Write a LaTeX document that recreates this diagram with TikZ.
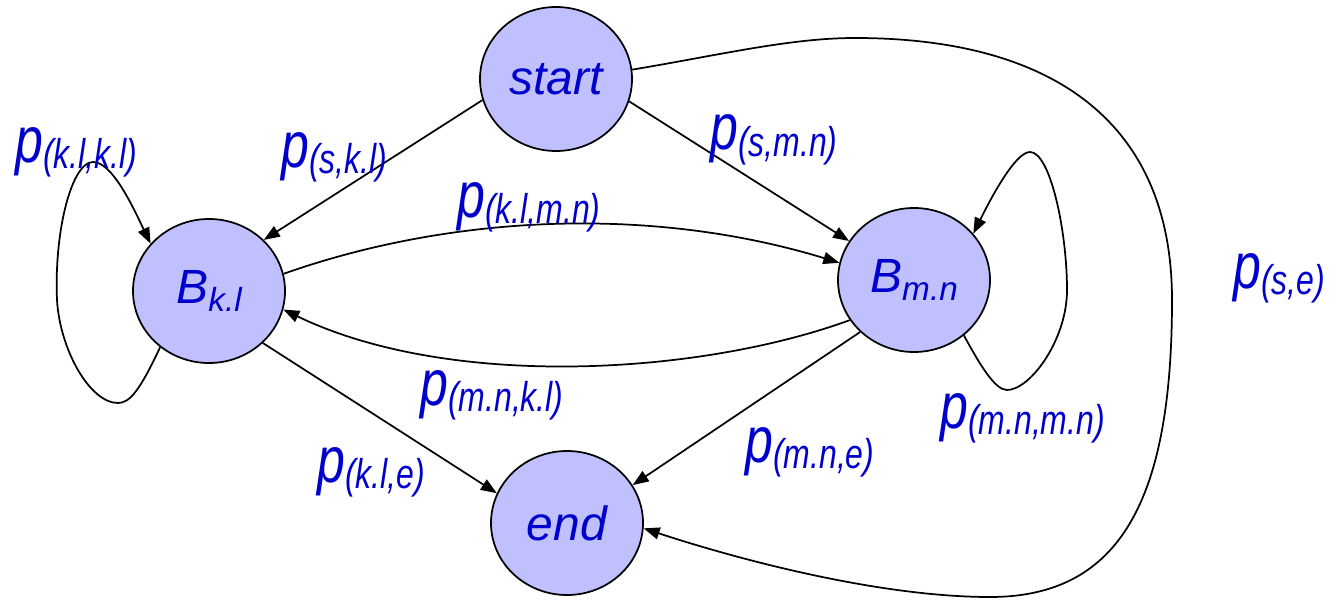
\documentclass[tikz,border=0pt]{standalone}
\usepackage{fontspec}
\setmainfont{Liberation Sans}
\usetikzlibrary{shapes.geometric,arrows.meta}
\definecolor{nodefill}{RGB}{192,192,255}
\definecolor{txtblue}{RGB}{0,0,204}
\newcommand{\plab}[1]{\scalebox{1}[1.3]{\fontsize{37.5}{40}\selectfont\itshape p\raisebox{-3.5pt}{\fontsize{24}{26}\selectfont #1}}}
\newcommand{\bnode}[1]{B\raisebox{-6.5pt}{\fontsize{25}{28}\selectfont #1}}
\begin{document}
\begin{tikzpicture}[x=0.75pt,y=-0.75pt,
  state/.style={ellipse,draw,line width=1.3pt,fill=nodefill,minimum width=114pt,minimum height=108pt,inner sep=0pt,text=txtblue,font=\fontsize{36}{40}\selectfont\itshape},
  lab/.style={anchor=base west,inner sep=0pt,text=txtblue},
  edge/.style={line width=1.3pt,-{Triangle[length=12pt,width=9pt]}}]
\useasboundingbox (0,0) rectangle (1337,599);
\node[state] (start) at (556,79) {start};
\node[state] (Bkl) at (209,291) {\bnode{k.l}};
\node[state] (Bmn) at (914,280) {\bnode{m.n}};
\node[state] (end) at (567,523) {end};

\draw[edge] (start.196) -- (Bkl.43);
\draw[edge] (start.343) -- (Bmn.149);
\draw[edge] (start.7) .. controls (720,55) and (790,38) .. (855,38)
  .. controls (1050,38) and (1172,120) .. (1172,300)
  .. controls (1172,500) and (1120,597) .. (990,597)
  .. controls (880,597) and (740,560) .. (end.-4);
\draw[edge] (Bkl.13) .. controls (450,215) and (650,205) .. (Bmn.167);
\draw[edge] (Bmn.212) .. controls (700,375) and (450,390) .. (Bkl.346);
\draw[edge] (Bkl.316) -- (end.157);
\draw[edge] (Bmn.224) -- (end.30);
\draw[edge] (Bkl.229) .. controls (140,390) and (130,403) .. (118,403)
  .. controls (90,403) and (60,350) .. (57,300)
  .. controls (54,230) and (72,162) .. (93,162)
  .. controls (112,162) and (132,205) .. (Bkl.141);
\draw[edge] (Bmn.312) .. controls (980,365) and (995,390) .. (1007,390)
  .. controls (1030,390) and (1067,340) .. (1067,290)
  .. controls (1067,230) and (1050,152) .. (1030,152)
  .. controls (1015,152) and (990,200) .. (Bmn.38);

\node[lab] (l1) at (15,162) {\plab{(k.l,k.l)}};
\node[lab] (l2) at (281,167) {\plab{(s,k.l)}};
\node[lab] (l3) at (710,150) {\plab{(s,m.n)}};
\node[lab] (l4) at (457,217) {\plab{(k.l,m.n)}};
\node[lab] (l5) at (1233,288) {\plab{(s,e)}};
\node[lab] (l6) at (420,405) {\plab{(m.n,k.l)}};
\node[lab] (l7) at (940,428) {\plab{(m.n,m.n)}};
\node[lab] (l8) at (317,482) {\plab{(k.l,e)}};
\node[lab] (l9) at (745,462) {\plab{(m.n,e)}};
\end{tikzpicture}
\end{document}
